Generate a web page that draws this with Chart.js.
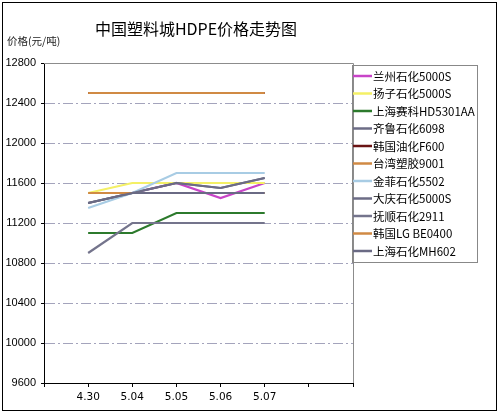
<!DOCTYPE html>
<html>
<head>
<meta charset="utf-8">
<script src="https://cdn.jsdelivr.net/npm/chart.js@4.4.1/dist/chart.umd.min.js"></script>
<style>
html,body{margin:0;padding:0;background:#fff;}
#wrap{width:499px;height:414px;position:relative;}
</style>
</head>
<body>
<div id="wrap"><canvas id="c" width="499" height="414"></canvas></div>
<script>
// ---- data ----
const chartTitle = '中国塑料城HDPE价格走势图';
const yAxisTitle = '价格(元/吨)';
const dates = ['4.30', '5.04', '5.05', '5.06', '5.07'];
const seriesNames = ['兰州石化5000S', '扬子石化5000S', '上海赛科HD5301AA', '齐鲁石化6098', '韩国油化F600',
  '台湾塑胶9001', '金菲石化5502', '大庆石化5000S', '抚顺石化2911', '韩国LG BE0400', '上海石化MH602'];
const lanzhou   = [11500, 11500, 11600, 11450, 11600];
const yangzi    = [11500, 11600, 11600, 11600, 11600];
const shsaike   = [11100, 11100, 11300, 11300, 11300];
const qilu      = [11400, 11500, 11600, 11550, 11650];
const hanguoyou = [12500, 12500, 12500, 12500, 12500];
const taiwan    = [12500, 12500, 12500, 12500, 12500];
const jinfei    = [11350, 11500, 11700, 11700, 11700];
const daqing    = [11400, 11500, 11600, 11550, 11650];
const fushun    = [10900, 11200, 11200, 11200, 11200];
const hanguoLG  = [11500, 11500, 11500, 11500, 11500];
const shshihua  = [11400, 11500, 11500, 11500, 11500];
const yTicks = [9600, 10000, 10400, 10800, 11200, 11600, 12000, 12400, 12800];

const seriesValues = [lanzhou, yangzi, shsaike, qilu, hanguoyou, taiwan, jinfei, daqing, fushun, hanguoLG, shshihua];
const seriesColors = ['#C844C8', '#F4F066', '#2C7A2C', '#6C6C86', '#6A1414', '#D08A44',
  '#A8CCE4', '#6C6C86', '#74748C', '#D08A44', '#6A6A84'];

// category axis: an empty slot before and two after, like the original
const labels = [''].concat(dates, ['', '']);
const pad = v => [null].concat(v, [null, null]);

const n = seriesNames.length;
const datasets = seriesNames.map((name, i) => ({
  label: name,
  data: pad(seriesValues[i]),
  borderColor: seriesColors[i],
  backgroundColor: seriesColors[i],
  borderWidth: 2.2,
  pointRadius: 0,
  tension: 0,
  fill: false,
  order: n - i
}));

const PLOT_L = 44, PLOT_R = 353, PLOT_T = 63, PLOT_B = 383;
const CJK = '"Noto Sans CJK SC", "Noto Sans", sans-serif';

const decor = {
  id: 'decor',
  beforeDraw(chart) {
    const ctx = chart.ctx;
    ctx.save();
    ctx.fillStyle = '#fff';
    ctx.fillRect(0, 0, chart.width, chart.height);
    ctx.restore();
  },
  afterDraw(chart) {
    const ctx = chart.ctx;
    const a = chart.chartArea;
    ctx.save();
    // plot border top/right
    ctx.strokeStyle = '#8C8C8C';
    ctx.lineWidth = 1;
    ctx.beginPath();
    ctx.moveTo(a.left, a.top + 0.5);
    ctx.lineTo(a.right + 0.5, a.top + 0.5);
    ctx.lineTo(a.right + 0.5, a.bottom);
    ctx.stroke();
    // outer border
    ctx.strokeStyle = '#000';
    ctx.strokeRect(2.5, 2.5, 494, 408);
    // title
    ctx.fillStyle = '#000';
    ctx.font = '16px ' + CJK;
    ctx.textAlign = 'center';
    ctx.textBaseline = 'middle';
    ctx.fillText(chartTitle, 196, 29);
    // y axis title
    ctx.font = '10.5px ' + CJK;
    ctx.textAlign = 'left';
    ctx.fillStyle = '#222';
    ctx.fillText(yAxisTitle, 7, 41);
    // legend
    const lx = 352.5, ly = 65.5, lw = 125, lh = 197;
    ctx.strokeStyle = '#888';
    ctx.strokeRect(lx, ly, lw, lh);
    ctx.font = '11.5px ' + CJK;
    ctx.textBaseline = 'middle';
    chart.data.datasets.forEach((ds, i) => {
      const y = 76 + i * 17.5;
      ctx.strokeStyle = ds.borderColor;
      ctx.lineWidth = 2.5;
      ctx.beginPath();
      ctx.moveTo(353, y);
      ctx.lineTo(372, y);
      ctx.stroke();
      ctx.fillStyle = '#000';
      ctx.fillText(ds.label, 373, y + 0.5);
    });
    ctx.restore();
  }
};

new Chart(document.getElementById('c'), {
  type: 'line',
  data: { labels: labels, datasets: datasets },
  plugins: [decor],
  options: {
    responsive: false,
    animation: false,
    devicePixelRatio: 1,
    layout: { padding: { left: 0, top: PLOT_T, right: 499 - PLOT_R, bottom: 0 } },
    plugins: { legend: { display: false }, title: { display: false }, tooltip: { enabled: false } },
    scales: {
      x: {
        type: 'category',
        offset: false,
        afterFit(scale) { scale.height = 414 - PLOT_B; },
        border: { color: '#000', width: 1 },
        grid: { drawOnChartArea: false, drawTicks: true, tickLength: 4, color: '#000' },
        ticks: { autoSkip: false, maxRotation: 0, padding: 4, color: '#000',
          font: { family: '"DejaVu Sans", sans-serif', size: 10.5 } }
      },
      y: {
        min: 9600, max: 12800,
        afterFit(scale) { scale.width = PLOT_L; },
        afterBuildTicks(scale) { scale.ticks = yTicks.map(v => ({ value: v })); },
        border: { color: '#000', width: 1, dash: [10, 3, 2, 3] },
        grid: {
          drawTicks: true, tickLength: 3,
          color: ctx => (ctx.tick && (ctx.tick.value === 12800 || ctx.tick.value === 9600)) ? 'rgba(0,0,0,0)' : '#A4A4BC',
          tickColor: '#000'
        },
        ticks: { padding: 5, color: '#000', callback: v => String(v),
          font: { family: '"Liberation Sans", Arial, sans-serif', size: 11 } }
      }
    }
  }
});
</script>
</body>
</html>
